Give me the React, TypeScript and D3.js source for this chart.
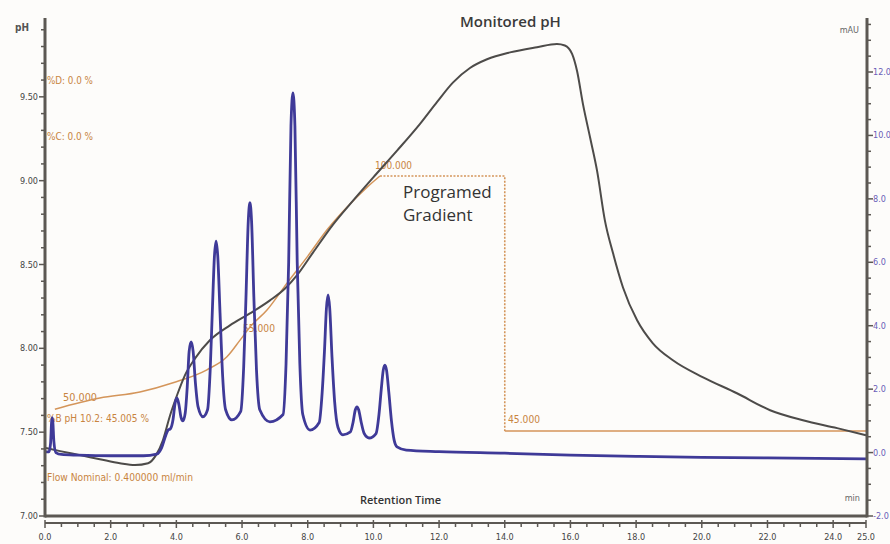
import React from 'react';
import * as d3 from 'd3';

const width = 890;
const height = 544;
const frame = { left: 45, right: 867, top: 18, bottom: 516 };

// UV trace: [retention time (min), absorbance (mAU)]
const uvTrace: [number, number][] = [
  [0.0, 0.02], [0.12, 0.02], [0.17, 0.3], [0.2, 0.95], [0.22, 1.1], [0.24, 0.95], [0.27, 0.35], [0.33, 0.0],
  [0.5, -0.06], [1.0, -0.08], [2.0, -0.1], [3.0, -0.1], [3.4, -0.05], [3.55, 0.15], [3.68, 0.55],
  [3.75, 0.71], [3.82, 0.75], [3.9, 1.05], [3.96, 1.55], [4.02, 1.72], [4.08, 1.5], [4.14, 1.12], [4.2, 1.0],
  [4.27, 1.25], [4.33, 2.05], [4.39, 3.2], [4.45, 3.49], [4.51, 3.2], [4.58, 2.2], [4.66, 1.45], [4.81, 1.13],
  [4.95, 1.35], [5.03, 2.6], [5.1, 4.6], [5.16, 6.2], [5.21, 6.67], [5.26, 6.2], [5.33, 4.4], [5.41, 2.4], [5.5, 1.35], [5.69, 1.03],
  [5.96, 1.3], [6.05, 2.7], [6.12, 4.9], [6.19, 7.3], [6.24, 7.88], [6.29, 7.3], [6.36, 4.9], [6.44, 2.6], [6.54, 1.35], [6.85, 0.97],
  [7.25, 1.2], [7.34, 2.8], [7.42, 6.0], [7.49, 10.3], [7.55, 11.34], [7.61, 10.3], [7.68, 6.0], [7.76, 2.8], [7.85, 1.2], [8.07, 0.71],
  [8.35, 0.95], [8.44, 1.9], [8.51, 3.2], [8.57, 4.55], [8.62, 4.97], [8.67, 4.55], [8.74, 3.0], [8.82, 1.6], [8.92, 0.8], [9.07, 0.56],
  [9.3, 0.65], [9.38, 0.95], [9.45, 1.35], [9.5, 1.44], [9.55, 1.35], [9.63, 0.95], [9.72, 0.6], [9.87, 0.46],
  [10.08, 0.6], [10.17, 1.2], [10.24, 2.0], [10.3, 2.6], [10.35, 2.76], [10.4, 2.6], [10.47, 1.9], [10.55, 1.0], [10.63, 0.4], [10.72, 0.18],
  [11.0, 0.08], [12.0, 0.03], [14.0, -0.02], [16.0, -0.08], [18.0, -0.12], [20.0, -0.15], [22.0, -0.17], [25.0, -0.2],
];

// monitored pH: [time (min), pH]
const phTrace: [number, number][] = [
  [0.03, 7.405], [0.46, 7.387], [1.07, 7.363], [1.67, 7.339], [2.28, 7.315], [2.74, 7.304], [3.14, 7.315],
  [3.38, 7.363], [3.59, 7.452], [3.81, 7.601], [4.02, 7.72], [4.26, 7.839], [4.57, 7.94], [5.02, 8.048],
  [5.63, 8.137], [6.24, 8.208], [6.85, 8.286], [7.31, 8.357], [7.67, 8.435], [8.16, 8.571], [8.77, 8.738],
  [9.38, 8.881], [9.99, 9.018], [10.72, 9.179], [11.42, 9.339], [11.94, 9.47], [12.42, 9.585], [12.94, 9.672],
  [13.46, 9.724], [14.16, 9.765], [14.98, 9.796], [15.59, 9.815], [15.83, 9.806], [16.05, 9.756], [16.2, 9.655],
  [16.38, 9.458], [16.6, 9.256], [16.81, 9.06], [17.05, 8.762], [17.3, 8.565], [17.6, 8.363], [18.03, 8.167],
  [18.51, 8.03], [19.12, 7.929], [20.04, 7.827], [21.07, 7.732], [22.08, 7.631], [23.08, 7.571], [24.12, 7.524],
  [25.0, 7.482],
];

// programmed gradient, %B (as traced)
const gradientRamp: [number, number][] = [
  [0.3, 49.7], [1.67, 52.1], [2.89, 53.4], [3.9, 55.4], [4.93, 58.2], [5.54, 61.0], [5.94, 64.6], [6.24, 67.4],
  [6.76, 71.1], [7.37, 76.9], [7.98, 82.5], [8.59, 88.4], [9.2, 93.3], [9.81, 97.6], [10.2, 100],
];
const gradientStep: [number, number][] = [[10.2, 100], [14.0, 100], [14.0, 45]];
const gradientHold: [number, number][] = [[14.0, 45], [25.0, 45]];

const phLabels = ['7.00', '7.50', '8.00', '8.50', '9.00', '9.50'];
const auLabels = ['-2.0', '0.0', '2.0', '4.0', '6.0', '8.0', '10.0', '12.0'];
const timeLabels = ['0.0', '2.0', '4.0', '6.0', '8.0', '10.0', '12.0', '14.0', '16.0', '18.0', '20.0', '22.0', '24.0', '25.0'];

const narrow = "'Liberation Sans Narrow', 'DejaVu Sans Condensed', 'Roboto Condensed', sans-serif";
const sans = "'Open Sans', 'Noto Sans', sans-serif";
const axisColor = '#5c5853';
const orange = '#c8843f';

export default function App() {
  const x = d3.scaleLinear().domain([0, 25]).range([45, 866]);
  const yPh = d3.scaleLinear().domain([7, 10]).range([516, 13]);
  const yAu = d3.scaleLinear().domain([-2, 12]).range([516, 72]);
  const yPct = d3.scaleLinear().domain([45, 100]).range([431, 176]);

  const uvLine = d3.line<[number, number]>().x(d => x(d[0])).y(d => yAu(d[1])).curve(d3.curveMonotoneX);
  const phLine = d3.line<[number, number]>().x(d => x(d[0])).y(d => yPh(d[1])).curve(d3.curveMonotoneX);
  const pctLine = d3.line<[number, number]>().x(d => x(d[0])).y(d => yPct(d[1])).curve(d3.curveMonotoneX);
  const pctStraight = d3.line<[number, number]>().x(d => x(d[0])).y(d => yPct(d[1]));

  const phTicks = yPh.ticks(30).filter(v => v <= 9.95);
  const auTicks = d3.scaleLinear().domain([-2, 13.5]).ticks(31);
  const timeTicks = x.ticks(50);
  const isMajor = (v: number, step: number) => Math.abs(v / step - Math.round(v / step)) < 1e-6;

  const annot = (t: number, yy: number, s: string, len: number) => (
    <text x={x(t)} y={yy} fill={orange} fontSize={11} fontFamily={narrow} textLength={len} lengthAdjust="spacingAndGlyphs">{s}</text>
  );

  return (
    <svg width={width} height={height} style={{ position: 'absolute', left: 0, top: 0 }}>
      <rect width={width} height={height} fill="#fdfcfa" />

      {/* annotations from the instrument */}
      {annot(0.06, 84, '%D: 0.0 %', 46)}
      {annot(0.06, 140, '%C: 0.0 %', 46)}
      {annot(0.55, 401, '50.000', 34)}
      {annot(0.06, 422, '%B pH 10.2: 45.005 %', 102)}
      {annot(0.06, 481, 'Flow Nominal: 0.400000 ml/min', 146)}
      {annot(6.03, 332, '55.000', 32)}
      {annot(10.05, 169, '100.000', 37)}
      {annot(14.1, 423, '45.000', 32)}

      <text x={403} y={198} fontFamily={sans} fontSize={17} fill="#333">Programed</text>
      <text x={403} y={221} fontFamily={sans} fontSize={17} fill="#333">Gradient</text>
      <text x={460} y={27} fontFamily={sans} fontSize={15} fontWeight={600} fill="#3a3a3a">Monitored pH</text>
      <text x={360} y={504} fontFamily={sans} fontSize={11} fontWeight={600} fill="#333">Retention Time</text>

      {/* gradient */}
      <path d={pctLine(gradientRamp) || ''} fill="none" stroke="#d4955a" strokeWidth={1.5} />
      <path d={pctStraight(gradientStep) || ''} fill="none" stroke="#d4955a" strokeWidth={1.6} strokeDasharray="2,1.5" />
      <path d={pctStraight(gradientHold) || ''} fill="none" stroke="#d4955a" strokeWidth={1.5} />

      {/* monitored pH */}
      <path d={phLine(phTrace) || ''} fill="none" stroke="#4d4b49" strokeWidth={2} />

      {/* chromatogram */}
      <path d={uvLine(uvTrace) || ''} fill="none" stroke="#3f3a98" strokeWidth={2.8} strokeLinejoin="round" />

      {/* left pH axis */}
      <line x1={frame.left} x2={frame.left} y1={frame.top} y2={frame.bottom + 1.5} stroke={axisColor} strokeWidth={3} />
      {phTicks.map((v, i) => (
        <line key={i} x1={frame.left} x2={frame.left - (isMajor(v, 0.5) ? 6 : 4)} y1={yPh(v)} y2={yPh(v)} stroke={axisColor} strokeWidth={1.5} />
      ))}
      {phLabels.map(s => (
        <text key={s} x={38} y={yPh(+s) + 3} textAnchor="end" fontSize={9} fontFamily={narrow} fill="#444">{s}</text>
      ))}
      <text x={22} y={31} textAnchor="middle" fontSize={10} fontWeight="bold" fontFamily={narrow} fill="#555">pH</text>

      {/* bottom frame */}
      <line x1={frame.left} x2={frame.right} y1={frame.bottom} y2={frame.bottom} stroke={axisColor} strokeWidth={3} />

      {/* right mAU axis */}
      <line x1={frame.right} x2={frame.right} y1={frame.top} y2={frame.bottom + 1.5} stroke={axisColor} strokeWidth={3} />
      {auTicks.map((v, i) => (
        <line key={i} x1={frame.right} x2={frame.right + (isMajor(v, 2) ? 6 : 4)} y1={yAu(v)} y2={yAu(v)} stroke={axisColor} strokeWidth={1.5} />
      ))}
      {auLabels.map(s => (
        <text key={s} x={873} y={yAu(+s) + 3} fontSize={9} fontFamily={narrow} fill="#6a5cb8">{s}</text>
      ))}
      <text x={859} y={33} textAnchor="end" fontSize={9} fontFamily={narrow} fill="#666">mAU</text>
      <text x={860} y={501} textAnchor="end" fontSize={9} fontFamily={narrow} fill="#666">min</text>

      {/* time axis */}
      <line x1={frame.left} x2={866} y1={523} y2={523} stroke={axisColor} strokeWidth={2} />
      {timeTicks.map((v, i) => {
        const major = isMajor(v, 2) || v === 25;
        return <line key={i} x1={x(v)} x2={x(v)} y1={major ? 520 : 523} y2={major ? 528 : 527} stroke={axisColor} strokeWidth={1.5} />;
      })}
      {timeLabels.map(s => (
        <text key={s} x={x(+s)} y={540} textAnchor="middle" fontSize={9} fontFamily={narrow} fill="#444">{s}</text>
      ))}
    </svg>
  );
}
